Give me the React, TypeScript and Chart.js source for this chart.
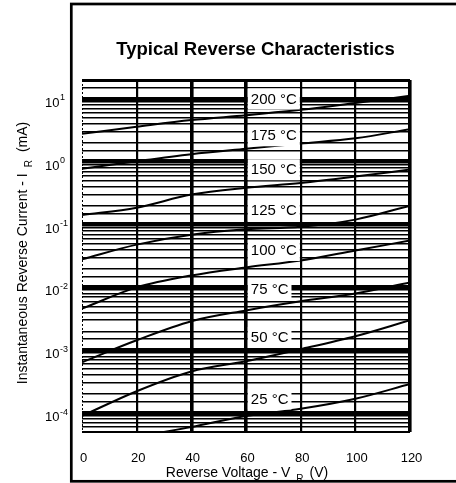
import { useEffect, useRef } from "react";
import { Chart, registerables } from "chart.js";

Chart.register(...registerables);

// ---- data ----
const voltages = [0, 20, 40, 60, 80, 100, 120];
const i200 = [2.78, 3.6, 4.6, 5.5, 6.7, 8.6, 11.2];
const i175 = [0.77, 1.02, 1.32, 1.61, 1.95, 2.36, 3.3];
const i150 = [0.142, 0.186, 0.3, 0.386, 0.46, 0.58, 0.75];
const i125 = [0.028, 0.048, 0.069, 0.084, 0.092, 0.12, 0.2];
const i100 = [0.0046, 0.01, 0.0155, 0.0208, 0.0268, 0.0387, 0.0557];
const i75 = [0.000645, 0.00144, 0.0029, 0.0043, 0.006, 0.008, 0.012];
const i50 = [0.00009, 0.000223, 0.00046, 0.00067, 0.00104, 0.00167, 0.003];
const i25 = [0.00003, 0.000042, 0.00006, 0.00009, 0.000117, 0.000169, 0.00029];

const series = [i200, i175, i150, i125, i100, i75, i50, i25];
const curveLabels = ["200 °C", "175 °C", "150 °C", "125 °C", "100 °C", "75 °C", "50 °C", "25 °C"];
const labelCurrents = [10, 2.59, 0.746, 0.167, 0.0387, 0.0093, 0.0016, 0.000167];

const xTicks = [0, 20, 40, 60, 80, 100, 120];
const yDecades = [1e-4, 1e-3, 1e-2, 1e-1, 1, 10];
const yExponents = ["-4", "-3", "-2", "-1", "0", "1"];

const titleText = "Typical Reverse Characteristics";
const xTitleMain = "Reverse Voltage - V";
const xTitleSub = "R";
const xTitleEnd = "(V)";
const yTitleMain = "Instantaneous Reverse Current - I";
const yTitleSub = "R";
const yTitleEnd = "(mA)";

const FONT = "'Liberation Sans', Arial, Helvetica, sans-serif";

const xLineWidth = (v: number) => {
  if (v === 0) return 0;
  if (v === 40 || v === 60 || v === 120) return 3.6;
  return 2.2;
};

const yLineWidth = (v: number) => {
  const lg = Math.log10(v);
  if (Math.abs(lg - Math.round(lg)) < 1e-6) return 4.5;
  if (Math.abs(v - 20) < 1e-9) return 3;
  if (Math.abs(v - 5e-5) < 1e-12) return 2;
  return 1.6;
};

const decorPlugin = {
  id: "decor",
  beforeDraw(chart: any) {
    const ctx = chart.ctx;
    ctx.save();
    ctx.fillStyle = "#fff";
    ctx.fillRect(0, 0, chart.width, chart.height);
    ctx.strokeStyle = "#000";
    ctx.lineWidth = 2.7;
    ctx.strokeRect(71.3, 4, 420, 477.3);
    ctx.restore();
  },
  afterDatasetsDraw(chart: any) {
    const ctx = chart.ctx;
    const xs = chart.scales.x;
    const ys = chart.scales.y;
    const ca = chart.chartArea;
    ctx.save();
    // dashed left edge (x = 0)
    ctx.strokeStyle = "#000";
    ctx.lineWidth = 1;
    ctx.setLineDash([2, 2]);
    ctx.beginPath();
    const x0p = xs.getPixelForValue(0) + 0.5;
    ctx.moveTo(x0p, ca.top);
    ctx.lineTo(x0p, ca.bottom);
    ctx.stroke();
    ctx.setLineDash([]);

    // curve labels
    ctx.font = `15px ${FONT}`;
    ctx.textBaseline = "middle";
    ctx.textAlign = "left";
    const bx = xs.getPixelForValue(60) + 1.8;
    curveLabels.forEach((t, i) => {
      const y = ys.getPixelForValue(labelCurrents[i]);
      const w = ctx.measureText(t).width;
      ctx.fillStyle = "#fff";
      ctx.fillRect(bx, y - 10.5, w + 6, 21);
      ctx.fillStyle = "#000";
      ctx.fillText(t, bx + 3, y + 0.5);
    });
    ctx.restore();
  },
  afterDraw(chart: any) {
    const ctx = chart.ctx;
    const xs = chart.scales.x;
    const ys = chart.scales.y;
    const ca = chart.chartArea;
    ctx.save();
    ctx.fillStyle = "#000";

    // title
    ctx.font = `bold 18.5px ${FONT}`;
    ctx.textAlign = "center";
    ctx.textBaseline = "alphabetic";
    ctx.fillText(titleText, 255.5, 55);

    // x tick labels
    ctx.font = `13px ${FONT}`;
    ctx.textAlign = "center";
    xTicks.forEach((v) => {
      ctx.fillText(String(v), xs.getPixelForValue(v) + 1.5, 461.5);
    });

    // y tick labels with superscripts
    ctx.textAlign = "left";
    yDecades.forEach((v, i) => {
      const y = ys.getPixelForValue(v);
      ctx.font = `13px ${FONT}`;
      ctx.fillText("10", 45, y + 8);
      const w = ctx.measureText("10").width;
      ctx.font = `9px ${FONT}`;
      ctx.fillText(yExponents[i], 45 + w + 0.5, y + 1.5);
    });

    // x title with subscript
    ctx.font = `14px ${FONT}`;
    const w1 = ctx.measureText(xTitleMain).width;
    const w3 = ctx.measureText(xTitleEnd).width;
    ctx.font = `10px ${FONT}`;
    const w2 = ctx.measureText(xTitleSub).width;
    const gap = 6;
    const total = w1 + gap + w2 + gap + w3;
    let xx = (ca.left + ca.right) / 2 - total / 2 + 1;
    ctx.font = `14px ${FONT}`;
    ctx.fillText(xTitleMain, xx, 477);
    xx += w1 + gap;
    ctx.font = `10px ${FONT}`;
    ctx.fillText(xTitleSub, xx, 482);
    xx += w2 + gap;
    ctx.font = `14px ${FONT}`;
    ctx.fillText(xTitleEnd, xx, 477);

    // y title (rotated) with subscript
    ctx.translate(26.5, 0);
    ctx.rotate(-Math.PI / 2);
    ctx.font = `14px ${FONT}`;
    const v1 = ctx.measureText(yTitleMain).width;
    const v3 = ctx.measureText(yTitleEnd).width;
    ctx.font = `10px ${FONT}`;
    const v2 = ctx.measureText(yTitleSub).width;
    const vtotal = v1 + gap + v2 + 8 + v3;
    let ty = -(253 + vtotal / 2);
    ctx.font = `14px ${FONT}`;
    ctx.fillText(yTitleMain, ty, 0);
    ty += v1 + gap;
    ctx.font = `10px ${FONT}`;
    ctx.fillText(yTitleSub, ty, 5);
    ty += v2 + 8;
    ctx.font = `14px ${FONT}`;
    ctx.fillText(yTitleEnd, ty, 0);

    ctx.restore();
  },
};

export default function App() {
  const ref = useRef<HTMLCanvasElement | null>(null);

  useEffect(() => {
    if (!ref.current) return;
    const datasets = series.map((s, i) => ({
      label: curveLabels[i],
      data: voltages.map((v, j) => ({ x: v, y: s[j] })),
      borderColor: "#000",
      borderWidth: 2,
      pointRadius: 0,
      cubicInterpolationMode: "monotone" as const,
      fill: false,
    }));
    const chart = new Chart(ref.current, {
      type: "line",
      data: { datasets },
      plugins: [decorPlugin],
      options: {
        animation: false,
        responsive: true,
        maintainAspectRatio: false,
        events: [],
        layout: { padding: { left: 0, right: 46, top: 80, bottom: 0 } },
        plugins: {
          legend: { display: false },
          tooltip: { enabled: false },
          title: { display: false },
        },
        scales: {
          x: {
            type: "linear",
            min: 0,
            max: 120,
            afterBuildTicks: (s: any) => {
              s.ticks = xTicks.map((v) => ({ value: v }));
            },
            ticks: { display: false, autoSkip: false },
            grid: {
              drawTicks: false,
              color: "#000",
              lineWidth: (c: any) => xLineWidth(c.tick ? c.tick.value : 0),
            },
            border: { display: false },
            afterFit: (s: any) => {
              s.height = 51;
            },
          },
          y: {
            type: "logarithmic",
            min: 5e-5,
            max: 20,
            ticks: { display: false, autoSkip: false },
            grid: {
              drawTicks: false,
              color: "#000",
              lineWidth: (c: any) => yLineWidth(c.tick ? c.tick.value : 1),
            },
            border: { display: false },
            afterFit: (s: any) => {
              s.width = 82;
            },
          },
        },
      },
    });
    return () => chart.destroy();
  }, []);

  return (
    <div style={{ position: "fixed", left: 0, top: 0, width: 456, height: 483, background: "#fff" }}>
      <canvas ref={ref} />
    </div>
  );
}
